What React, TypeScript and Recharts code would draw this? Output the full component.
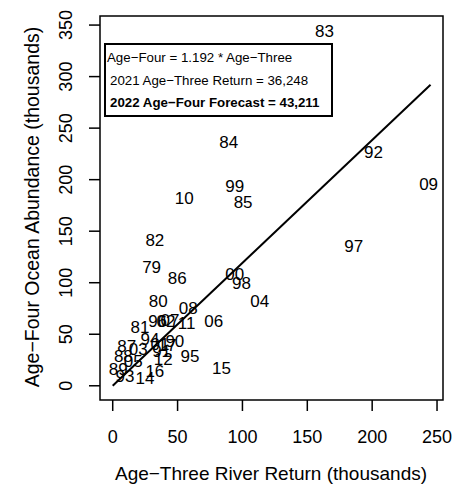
import { ReferenceArea, ReferenceLine, Scatter, ScatterChart, XAxis, YAxis, Label } from "recharts";

// run years (labels) with age-three river return (x) and age-four ocean abundance (y), thousands
const years = [
  "79", "80", "81", "82", "83", "84", "85", "86", "87", "88", "89", "90", "91", "92", "93", "94", "95",
  "96", "97", "98", "99", "00", "01", "02", "03", "04", "05", "06", "07", "08", "09", "10", "11", "12",
  "14", "15", "16", "17"
];
const ageThree = [
  30.0, 35.1, 21.0, 32.5, 163.3, 89.5, 100.5, 49.7, 10.8, 8.2, 4.3, 47.9, 37.7, 201.0, 9.5, 28.7, 59.5,
  34.6, 185.8, 99.2, 94.1, 94.1, 36.4, 41.0, 19.7, 113.3, 15.8, 77.9, 44.1, 58.2, 243.5, 55.1, 56.9, 38.9,
  24.8, 83.8, 32.5, 41.8
];
const ageFour = [
  114.3, 81.8, 57.0, 141.1, 344.0, 235.6, 178.0, 103.9, 38.2, 28.2, 15.5, 43.0, 33.3, 225.9, 8.7, 44.7, 28.4,
  62.4, 135.2, 99.0, 193.5, 107.8, 39.8, 62.4, 35.0, 81.8, 23.6, 62.1, 63.4, 74.5, 195.1, 181.3, 60.9, 25.2,
  7.5, 17.2, 13.9, 38.8
];

const xTicks = [0, 50, 100, 150, 200, 250];
const yTicks = [0, 50, 100, 150, 200, 250, 300, 350];
const slope = 1.192;
const fitRange = [0, 245];

const font = "'Liberation Sans', Arial, sans-serif";

const points = years.map((year, i) => ({ year, x: ageThree[i], y: ageFour[i] }));

function yearLabel(props: any) {
  const { cx, cy, payload } = props;
  return (
    <text x={cx} y={cy} textAnchor="middle" dominantBaseline="central" fontSize={17} fontFamily={font} fill="#000">
      {payload.year}
    </text>
  );
}

function XTick(props: any) {
  const { x, y, payload } = props;
  return (
    <text x={x} y={y + 26} textAnchor="middle" dominantBaseline="central" fontSize={18} fontFamily={font} fill="#000">
      {payload.value}
    </text>
  );
}

function YTick(props: any) {
  const { x, y, payload } = props;
  const tx = x - 23;
  return (
    <text x={tx} y={y} transform={`rotate(-90 ${tx} ${y})`} textAnchor="middle" dominantBaseline="central" fontSize={18} fontFamily={font} fill="#000">
      {payload.value}
    </text>
  );
}

export default function App() {
  return (
    <div style={{ position: "absolute", left: 0, top: 0, width: 454, height: 498, background: "#fff" }}>
      <ScatterChart
        width={454}
        height={498}
        margin={{ top: 16, right: 11, bottom: 0, left: 0 }}
        accessibilityLayer={false}
      >
        <XAxis
          type="number"
          dataKey="x"
          domain={[-9.8, 254.6]}
          ticks={xTicks}
          height={98}
          tickSize={11}
          tickMargin={0}
          axisLine={false}
          tickLine={{ stroke: "#000", strokeWidth: 1.5 }}
          tick={<XTick />}
        >
          <Label
            content={() => (
              <text x={271} y={473} textAnchor="middle" dominantBaseline="central" fontSize={19} fontFamily={font} fill="#000">
                Age−Three River Return (thousands)
              </text>
            )}
          />
        </XAxis>
        <YAxis
          type="number"
          dataKey="y"
          domain={[-13.8, 358.8]}
          ticks={yTicks}
          width={100}
          tickSize={11}
          tickMargin={0}
          axisLine={false}
          tickLine={{ stroke: "#000", strokeWidth: 1.5 }}
          tick={<YTick />}
        >
          <Label
            content={() => (
              <text x={32} y={207} transform="rotate(-90 32 207)" textAnchor="middle" dominantBaseline="central" fontSize={19.5} fontFamily={font} fill="#000">
                Age−Four Ocean Abundance (thousands)
              </text>
            )}
          />
        </YAxis>
        <ReferenceArea x1={-9.8} x2={254.6} y1={-13.8} y2={358.8} fill="none" stroke="#000" strokeWidth={1.5} />
        <ReferenceLine
          segment={[
            { x: fitRange[0], y: fitRange[0] * slope },
            { x: fitRange[1], y: fitRange[1] * slope }
          ]}
          stroke="#000"
          strokeWidth={2}
        />
        <Scatter
          data={points}
          fill="#000"
          shape={yearLabel}
          activeShape={yearLabel}
          legendType="none"
          isAnimationActive={false}
        />
      </ScatterChart>
      <div
        style={{
          position: "absolute",
          left: 104,
          top: 43,
          width: 225,
          height: 70,
          border: "2px solid #000",
          background: "#fff",
          fontFamily: font,
          fontSize: 13.3,
          color: "#000"
        }}
      >
        <div style={{ position: "absolute", left: 1, top: 5, whiteSpace: "nowrap" }}>Age−Four = 1.192 * Age−Three</div>
        <div style={{ position: "absolute", left: 4, top: 28, whiteSpace: "nowrap" }}>2021 Age−Three Return = 36,248</div>
        <div style={{ position: "absolute", left: 4, top: 50, whiteSpace: "nowrap", fontWeight: "bold" }}>
          2022 Age−Four Forecast = 43,211
        </div>
      </div>
    </div>
  );
}
